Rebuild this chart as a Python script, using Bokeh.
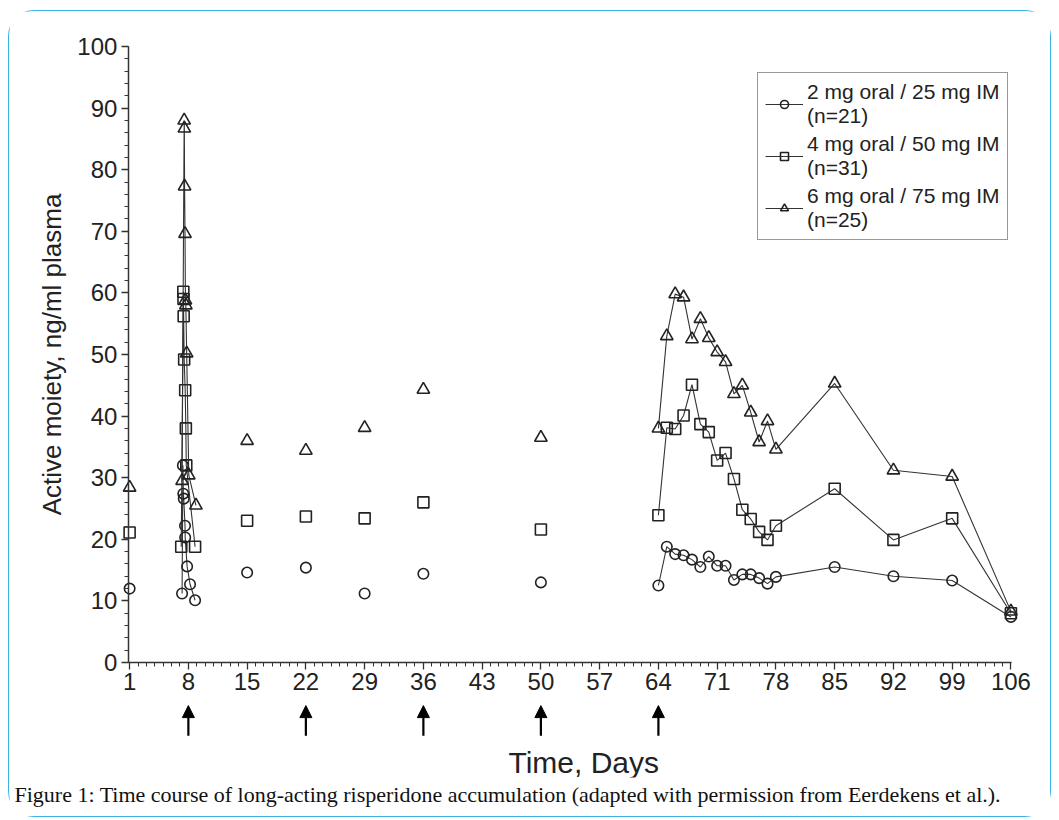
import math
from bokeh.plotting import figure
from bokeh.models import (Range1d, FixedTicker, Arrow, NormalHead, Legend,
                          LegendItem, Title, ColumnDataSource, Label)
from bokeh.embed import file_html
from bokeh.resources import INLINE

# ---------------- data ----------------
x_tick_days = [1, 8, 15, 22, 29, 36, 43, 50, 57, 64, 71, 78, 85, 92, 99, 106]
y_ticks = [0, 10, 20, 30, 40, 50, 60, 70, 80, 90, 100]
injection_days = [8, 22, 36, 50, 64]

# isolated visits (not connected)
single_days = [1, 15, 22, 29, 36, 50]
single_2mg = [12.0, 14.6, 15.4, 11.2, 14.4, 13.0]
single_4mg = [21.1, 23.0, 23.7, 23.4, 26.0, 21.6]
single_6mg = [28.4, 36.0, 34.4, 38.1, 44.3, 36.5]

# intensive sampling around day 8 (connected)
cluster_days_2mg = [7.25, 7.35, 7.4, 7.45, 7.6, 7.62, 7.85, 8.2, 8.8]
cluster_2mg = [11.2, 32.0, 27.4, 26.6, 22.2, 20.3, 15.6, 12.7, 10.1]
cluster_days_4mg = [7.15, 7.4, 7.42, 7.44, 7.5, 7.62, 7.7, 7.75, 8.8]
cluster_4mg = [18.8, 60.2, 59.0, 56.2, 49.2, 44.2, 38.0, 32.0, 18.8]
cluster_days_6mg = [7.25, 7.5, 7.52, 7.55, 7.6, 7.65, 7.7, 7.8, 8.05, 8.9]
cluster_6mg = [29.5, 88.0, 86.7, 77.3, 69.6, 58.8, 58.0, 50.2, 30.4, 25.5]

# sampling after day 64 (connected)
tail_days = [64, 65, 66, 67, 68, 69, 70, 71, 72, 73, 74, 75, 76, 77, 78, 85, 92, 99, 106]
tail_2mg = [12.5, 18.8, 17.6, 17.4, 16.7, 15.5, 17.2, 15.7, 15.7, 13.4, 14.3, 14.3,
            13.7, 12.8, 13.9, 15.5, 14.0, 13.3, 7.4]
tail_4mg = [23.9, 38.1, 37.9, 40.1, 45.1, 38.7, 37.4, 32.8, 34.0, 29.8, 24.8, 23.3,
            21.2, 19.9, 22.2, 28.2, 19.9, 23.4, 8.0]
tail_6mg = [38.0, 53.0, 59.8, 59.3, 52.5, 55.8, 52.7, 50.4, 48.8, 43.6, 45.0, 40.6,
            35.8, 39.2, 34.6, 45.3, 31.2, 30.2, 8.3]

labels = ["2 mg oral / 25 mg IM\n(n=21)",
          "4 mg oral / 50 mg IM\n(n=31)",
          "6 mg oral / 75 mg IM\n(n=25)"]
x_title = "Time, Days"
y_title = "Active moiety, ng/ml plasma"
caption = ("Figure 1: Time course of long-acting risperidone accumulation "
           "(adapted with permission from Eerdekens et al.).")

# ---------------- figure ----------------
INK = "#222222"
FONT = "Liberation Sans"
X0, X1 = 0.85, 106.1          # extent of the drawn x axis
Y0, Y1 = 0, 100               # extent of the drawn y axis

# The frame covers almost the whole card; axes are pinned at (X0, 0) so that
# the injection arrows below the x axis can be drawn inside the frame.
p = figure(width=1043, height=807, output_backend="svg", toolbar_location=None,
           x_range=Range1d(-12.0, 110.0), y_range=Range1d(-18.67, 102.6),
           min_border_left=11, min_border_right=8, min_border_top=19,
           min_border_bottom=41)
p.styles = {"margin": "10px 0px 0px 8px", "border": "1px solid #3bb4e5",
            "border-radius": "26px"}
p.xgrid.visible = False
p.ygrid.visible = False
p.outline_line_color = None

for ax in (p.xaxis[0], p.yaxis[0]):
    ax.axis_line_color = "#333333"
    ax.axis_line_width = 1.5
    ax.major_tick_line_color = "#333333"
    ax.major_tick_line_width = 1.3
    ax.minor_tick_line_color = "#333333"
    ax.major_tick_out = 7
    ax.major_tick_in = 0
    ax.minor_tick_out = 4
    ax.minor_tick_in = 0
    ax.major_label_text_font = FONT
    ax.major_label_text_font_size = "24px"
    ax.major_label_text_color = INK
    ax.major_label_standoff = 4

p.xaxis.fixed_location = Y0
p.yaxis.fixed_location = X0
p.xaxis.bounds = (X0, X1)
p.yaxis.bounds = (Y0, Y1)
p.xaxis.ticker = FixedTicker(ticks=x_tick_days, minor_ticks=list(range(1, 107)))
p.yaxis.ticker = FixedTicker(ticks=y_ticks, minor_ticks=list(range(0, 101, 2)))

p.add_layout(Label(x=55.1, y=-16.2, text=x_title, text_font=FONT,
                   text_font_size="30px", text_color=INK,
                   text_align="center", text_baseline="middle"))
p.add_layout(Label(x=-8.3, y=50, text=y_title, angle=math.pi / 2,
                   text_font=FONT, text_font_size="26px", text_color=INK,
                   text_align="center", text_baseline="middle"))

series = [
    (single_2mg, cluster_days_2mg, cluster_2mg, tail_2mg, "circle", 10.5),
    (single_4mg, cluster_days_4mg, cluster_4mg, tail_4mg, "square", 11),
    (single_6mg, cluster_days_6mg, cluster_6mg, tail_6mg, "triangle", 12.5),
]

items = []
for (single, cdays, cvals, tvals, marker, size), lab in zip(series, labels):
    line_x = list(cdays) + [math.nan] + list(tail_days)
    line_y = list(cvals) + [math.nan] + list(tvals)
    lr = p.line(line_x, line_y, line_color="#333333", line_width=1.1)
    mx = list(single_days) + list(cdays) + list(tail_days)
    my = list(single) + list(cvals) + list(tvals)
    mr = p.scatter(mx, my, marker=marker, size=size, fill_color="white",
                   fill_alpha=0.0, line_color=INK, line_width=1.6)
    items.append(LegendItem(label=lab, renderers=[lr, mr]))

legend = Legend(items=items, location=(737, 537), glyph_width=38,
                label_standoff=4, spacing=4, padding=7, margin=0,
                label_text_font=FONT, label_text_font_size="21px",
                label_text_color=INK, border_line_color="#333333",
                border_line_width=1.2, background_fill_alpha=1.0)
p.add_layout(legend, "center")

arrow_src = ColumnDataSource(dict(
    x0=injection_days, x1=injection_days,
    y0=[-11.9] * len(injection_days), y1=[-7.0] * len(injection_days)))
p.add_layout(Arrow(end=NormalHead(size=12, fill_color="black", line_color="black"),
                   x_start="x0", y_start="y0", x_end="x1", y_end="y1",
                   source=arrow_src, line_color="black", line_width=2.2))

cap = Title(text=caption, align="left", offset=-6, standoff=4,
            text_font="Liberation Serif", text_font_size="22px",
            text_font_style="normal", text_color="#111111")
p.add_layout(cap, "below")

open("out.html", "w").write(file_html(p, INLINE))
